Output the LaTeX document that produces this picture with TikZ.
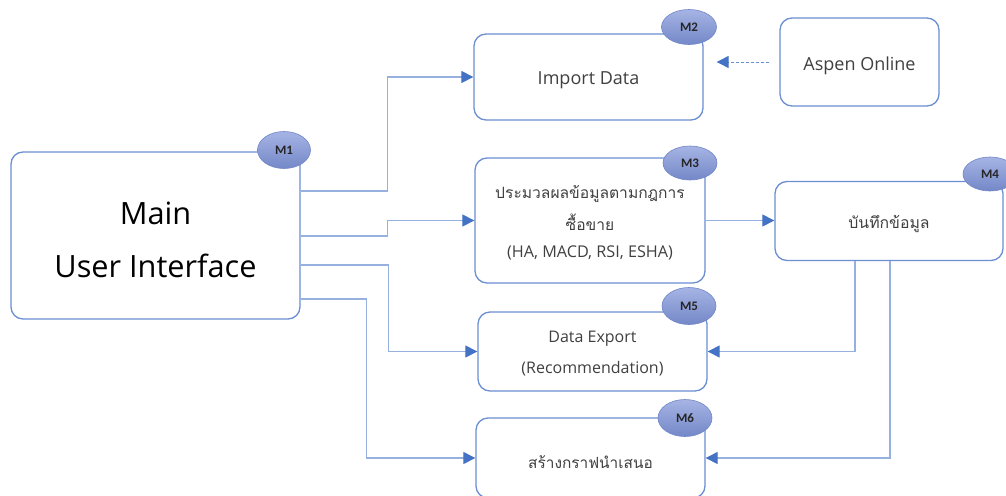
\documentclass[tikz,border=0pt]{standalone}
\usepackage{fontspec}
\setmainfont{Open Sans}
\newfontfamily\thaifont[Script=Thai]{Loma}
\newfontfamily\tagfont{Carlito}
\usetikzlibrary{arrows.meta,shapes.geometric}

\definecolor{boxline}{RGB}{108,142,210}
\definecolor{wire}{RGB}{150,176,224}
\definecolor{tipblue}{RGB}{68,114,196}
\definecolor{tagtop}{RGB}{166,180,228}
\definecolor{tagbot}{RGB}{116,136,200}
\definecolor{tagline}{RGB}{112,134,200}
\definecolor{txt}{RGB}{64,64,64}

\tikzset{
  module/.style={draw=boxline, line width=1.3pt, rounded corners=12pt,
    fill=white, inner sep=0pt},
  caption/.style={text=txt, inner sep=0pt, align=center},
  tag/.style={ellipse, draw=tagline, line width=0.6pt, top color=tagtop,
    bottom color=tagbot, inner sep=0pt,
    font=\tagfont\bfseries\fontsize{13}{15}\selectfont, text=black!85},
  conn/.style={draw=wire, line width=1.1pt,
    -{Triangle[length=12pt,width=12pt,color=tipblue]}},
  feed/.style={draw=tipblue!80, line width=0.9pt, dash pattern=on 3pt off 2pt,
    -{Triangle[length=12pt,width=12pt,color=tipblue]}}
}

\begin{document}
\begin{tikzpicture}[x=1pt,y=-1pt]
\useasboundingbox (0,0) rectangle (1006,495);
\begin{scope}
\clip (0,0) rectangle (1006,495);

% module boxes
\node[module, minimum width=289pt, minimum height=167pt] (main) at (155.5,235.5) {};
\node[module, minimum width=229pt, minimum height=86pt]  (imp)  at (588.5,77) {};
\node[module, minimum width=159pt, minimum height=88pt]  (aspen) at (859.5,62) {};
\node[module, minimum width=230pt, minimum height=125pt] (proc) at (590,220.5) {};
\node[module, minimum width=228pt, minimum height=79pt]  (rec)  at (889,221) {};
\node[module, minimum width=229pt, minimum height=79pt]  (exp)  at (592.5,351.5) {};
\node[module, minimum width=229pt, minimum height=80pt]  (graph) at (590.5,458) {};

% box captions
\node[caption, text=black, font=\fontsize{30.7}{36}\selectfont] (mainA) at (155.5,213) {Main};
\node[caption, text=black, font=\fontsize{30.7}{36}\selectfont] (mainB) at (155.5,266) {User Interface};
\node[caption, font=\fontsize{18}{22}\selectfont] (impT) at (588.5,80) {Import Data};
\node[caption, font=\fontsize{18}{22}\selectfont] (aspenT) at (859.5,66) {Aspen Online};
\node[caption, font=\thaifont\fontsize{15.6}{20}\selectfont] (procA) at (590,194) {ประมวลผลข้อมูลตามกฎการ};
\node[caption, font=\thaifont\fontsize{15.6}{20}\selectfont] (procB) at (590,222) {ซื้อขาย};
\node[caption, font=\fontsize{16.2}{20}\selectfont] (procC) at (590,253) {(HA, MACD, RSI, ESHA)};
\node[caption, font=\thaifont\fontsize{15.8}{20}\selectfont] (recT) at (889,224) {บันทึกข้อมูล};
\node[caption, font=\fontsize{16}{20}\selectfont] (expA) at (592.5,339) {Data Export};
\node[caption, font=\fontsize{16}{20}\selectfont] (expB) at (592.5,369) {(Recommendation)};
\node[caption, font=\thaifont\fontsize{15.4}{20}\selectfont] (graphT) at (590.5,462) {สร้างกราฟนำเสนอ};

% module tags
\node[tag, minimum width=53pt, minimum height=37pt] (t1) at (284,150) {M1};
\node[tag, minimum width=55pt, minimum height=35pt] (t2) at (689,27) {M2};
\node[tag, minimum width=54pt, minimum height=34pt] (t3) at (690,163) {M3};
\node[tag, minimum width=54pt, minimum height=34pt] (t4) at (990,174) {M4};
\node[tag, minimum width=54pt, minimum height=37pt] (t5) at (689,306) {M5};
\node[tag, minimum width=54pt, minimum height=37pt] (t6) at (685,418) {M6};

% connectors from the main interface
\draw[conn] (main.east |- 0,191) -| ([xshift=-86pt]imp.west) -- (imp.west);
\draw[conn] (main.east |- 0,236) -| ([xshift=-87pt]proc.west) -- (proc.west);
\draw[conn] (main.east |- 0,265) -| ([xshift=-89pt]exp.west) -- (exp.west);
\draw[conn] (main.east |- 0,299) -| ([xshift=-109pt]graph.west) -- (graph.west);

% processing chain
\draw[conn] (proc.east) -- (rec.west |- proc.east);
\draw[conn] ([xshift=-34pt]rec.south) |- (exp.east);
\draw[conn] ([xshift=1pt]rec.south) |- (graph.east);

% external data feed
\draw[feed] ([xshift=-10pt]aspen.west) -- ([xshift=13pt]imp.east |- aspen.west);
\end{scope}
\end{tikzpicture}
\end{document}
